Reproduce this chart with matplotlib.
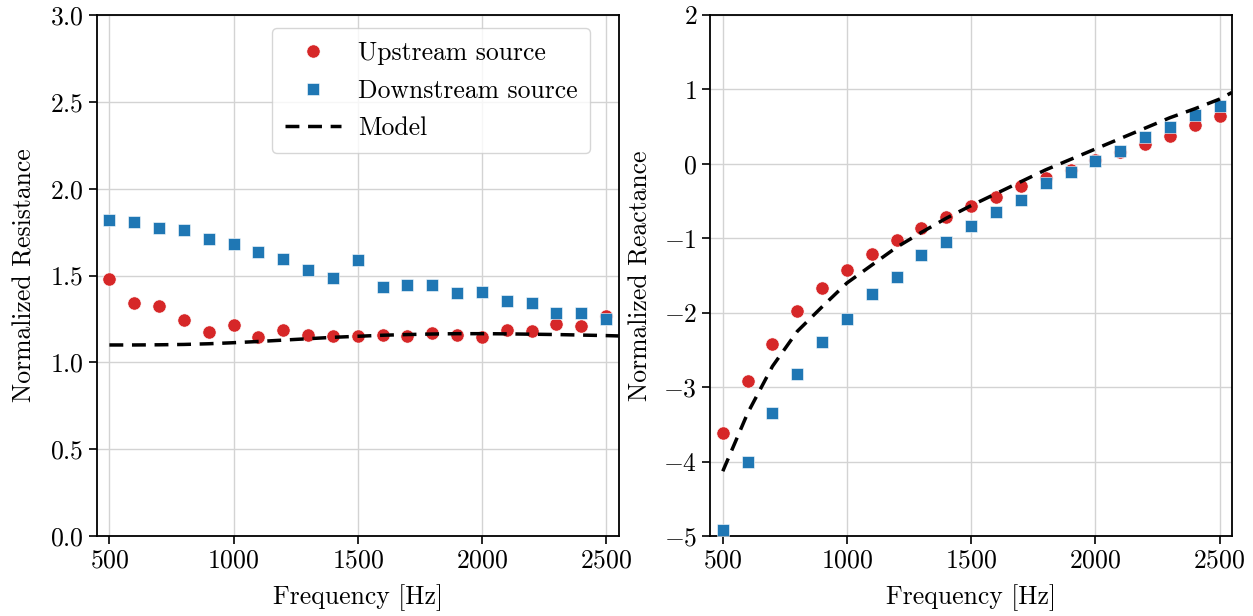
import matplotlib
matplotlib.use('Agg')
import matplotlib.pyplot as plt

plt.rcParams['font.family'] = 'serif'
plt.rcParams['font.serif'] = ['cmr10']
plt.rcParams['mathtext.fontset'] = 'cm'
plt.rcParams['axes.formatter.use_mathtext'] = True
plt.rcParams['font.size'] = 18.5

freq = [500, 600, 700, 800, 900, 1000, 1100, 1200, 1300, 1400, 1500,
        1600, 1700, 1800, 1900, 2000, 2100, 2200, 2300, 2400, 2500]

# normalized resistance
res_up = [1.48, 1.34, 1.325, 1.245, 1.175, 1.215, 1.145, 1.185, 1.157, 1.15, 1.15,
          1.155, 1.15, 1.17, 1.16, 1.143, 1.188, 1.182, 1.22, 1.21, 1.265]
res_down = [1.817, 1.811, 1.776, 1.763, 1.712, 1.683, 1.637, 1.595, 1.529, 1.485, 1.589,
            1.431, 1.444, 1.448, 1.398, 1.403, 1.353, 1.344, 1.282, 1.284, 1.25]

# normalized reactance
rea_up = [-3.61, -2.92, -2.42, -1.98, -1.665, -1.43, -1.205, -1.02, -0.867, -0.71, -0.562,
          -0.44, -0.30, -0.19, -0.08, 0.05, 0.157, 0.27, 0.38, 0.52, 0.64]
rea_down = [-4.92, -4.0, -3.345, -2.825, -2.39, -2.09, -1.753, -1.524, -1.227, -1.047, -0.831,
            -0.652, -0.485, -0.256, -0.11, 0.045, 0.175, 0.36, 0.49, 0.65, 0.78]

# model curves
model_f = [500, 600, 700, 800, 900, 1000, 1100, 1200, 1300, 1400, 1500,
           1600, 1700, 1800, 1900, 2000, 2100, 2200, 2300, 2400, 2500, 2550]
model_res = [1.100, 1.100, 1.101, 1.103, 1.107, 1.113, 1.120, 1.128, 1.136, 1.144, 1.150,
             1.156, 1.160, 1.163, 1.165, 1.165, 1.164, 1.162, 1.160, 1.157, 1.154, 1.152]
model_rea = [-4.13, -3.35, -2.72, -2.25, -1.92, -1.60, -1.36, -1.12, -0.92, -0.73, -0.56,
             -0.40, -0.24, -0.08, 0.06, 0.20, 0.34, 0.48, 0.62, 0.74, 0.87, 0.96]

red = '#d62728'
blue = '#1f77b4'

fig, (ax1, ax2) = plt.subplots(1, 2, figsize=(12.53, 6.16), dpi=100)
fig.subplots_adjust(left=0.0774, right=0.9832, top=0.9756, bottom=0.1299, wspace=0.176)

for ax, up, down, model in [(ax1, res_up, res_down, model_res),
                            (ax2, rea_up, rea_down, model_rea)]:
    ax.plot(freq, up, 'o', color=red, ms=9.5, mec='white', mew=0.4, label='Upstream source', zorder=3)
    ax.plot(freq, down, 's', color=blue, ms=9, mec='white', mew=0.4, label='Downstream source', zorder=3)
    ax.plot(model_f, model, '--', color='black', lw=2.5, dashes=(4, 2.5), label='Model', zorder=4)
    ax.set_xlim(450, 2550)
    ax.set_xticks([500, 1000, 1500, 2000, 2500])
    ax.grid(True, color='#d3d3d3', lw=1)
    ax.set_axisbelow(True)
    ax.tick_params(direction='out', length=6, width=1.2)
    for s in ax.spines.values():
        s.set_linewidth(1.3)
    ax.set_xlabel('Frequency [Hz]', labelpad=8)

ax1.set_ylim(0, 3.0)
ax1.set_yticks([0.0, 0.5, 1.0, 1.5, 2.0, 2.5, 3.0])
ax1.set_ylabel('Normalized Resistance', labelpad=10)
ax1.legend(loc='upper right', bbox_to_anchor=(0.946, 0.975), borderaxespad=0,
           fancybox=True, framealpha=0.8, edgecolor='#cccccc',
           handlelength=2.2, handletextpad=0.65, borderpad=0.5, labelspacing=0.55)

ax2.set_ylim(-5, 2)
ax2.set_yticks([-5, -4, -3, -2, -1, 0, 1, 2])
ax2.set_ylabel('Normalized Reactance', labelpad=8)

plt.savefig('out.png', dpi=100)
plt.close()
